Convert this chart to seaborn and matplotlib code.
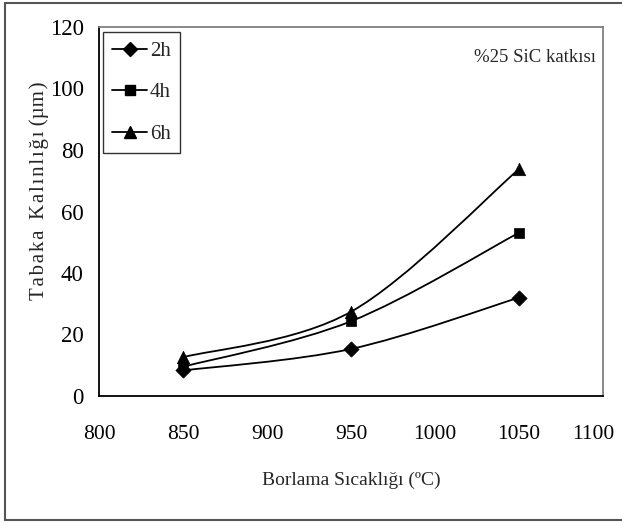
import numpy as np
import pandas as pd
import matplotlib
matplotlib.use("Agg")
import matplotlib.pyplot as plt
import seaborn as sns
from matplotlib.path import Path
from matplotlib.patches import PathPatch
from matplotlib.lines import Line2D
from matplotlib.transforms import ScaledTranslation

# ---- data ----
temperatures = [850, 950, 1050]
series_names = ["2h", "4h", "6h"]
thickness_2h = [8.3, 15.3, 32.0]
thickness_4h = [9.5, 24.3, 53.1]
thickness_6h = [12.6, 27.4, 73.8]
x_ticks = [800, 850, 900, 950, 1000, 1050, 1100]
y_ticks = [0, 20, 40, 60, 80, 100, 120]

series_values = {"2h": thickness_2h, "4h": thickness_4h, "6h": thickness_6h}
markers = {"2h": "D", "4h": "s", "6h": "^"}
msizes = {"2h": 60, "4h": 55, "6h": 80}

rows = []
for name in series_names:
    for t, v in zip(temperatures, series_values[name]):
        rows.append({"T": t, "thk": v, "series": name})
df = pd.DataFrame(rows)

sns.set_theme(style="white")
plt.rcParams["font.family"] = ["Liberation Serif", "DejaVu Serif"]

fig = plt.figure(figsize=(6.22, 5.23), dpi=100)
ax = fig.add_axes([99/622, 1-396/523, (603-99)/622, (396-27)/523])


def excel_smooth_path(xs, ys):
    pts = np.column_stack([xs, ys]).astype(float)
    n = len(pts)
    verts = [pts[0]]
    codes = [Path.MOVETO]
    for i in range(n - 1):
        p_prev = pts[max(i - 1, 0)]
        p0 = pts[i]
        p1 = pts[i + 1]
        p_next = pts[min(i + 2, n - 1)]
        c1 = p0 + (p1 - p_prev) / 6.0
        c2 = p1 - (p_next - p0) / 6.0
        verts += [c1, c2, p1]
        codes += [Path.CURVE4, Path.CURVE4, Path.CURVE4]
    return Path(verts, codes)


for name in series_names:
    sub = df[df["series"] == name]
    path = excel_smooth_path(sub["T"].values, sub["thk"].values)
    ax.add_patch(PathPatch(path, facecolor="none", edgecolor="black", lw=1.3, zorder=2))
    sns.scatterplot(data=sub, x="T", y="thk", marker=markers[name], s=msizes[name],
                    color="black", edgecolor="black", linewidth=0.5, ax=ax, zorder=3,
                    legend=False)

ax.set_xlim(800, 1100)
ax.set_ylim(0, 120)
ax.set_xticks(x_ticks)
ax.set_yticks(y_ticks)
ax.set_xticklabels([str(v) for v in x_ticks])
ax.set_yticklabels([str(v) for v in y_ticks])
ax.tick_params(axis="x", direction="in", length=7, width=1, pad=21, labelsize=15.5, colors="black")
ax.tick_params(axis="y", direction="in", length=5, width=1, pad=11, labelsize=16.5, colors="black")
ax.tick_params(axis="x", which="both", top=False)
ax.tick_params(axis="y", which="both", right=False)

# the last x label sits slightly left of its tick (as in the reference) so it is not cut
last = ax.get_xticklabels()[-1]
last.set_transform(last.get_transform() + ScaledTranslation(-7/72, 0, fig.dpi_scale_trans))

for side in ["left", "bottom"]:
    ax.spines[side].set_color("black")
    ax.spines[side].set_linewidth(1.3)
for side in ["top", "right"]:
    ax.spines[side].set_color("#808080")
    ax.spines[side].set_linewidth(1.3)
    ax.spines[side].set_visible(True)

hs = "\u200a"
ylab = hs.join("Tabaka") + "  " + hs.join("Kalınlığı") + " (µm" + hs + ")"
ax.set_xlabel("Borlama Sıcaklığı (ºC)", fontsize=14)
ax.set_ylabel(ylab, fontsize=15)
ax.xaxis.set_label_coords(0.5, -0.205)
ax.yaxis.set_label_coords(-0.10, 0.555)

ax.text(0.865, 0.916, "%25 SiC katkısı", transform=ax.transAxes, ha="center", va="center",
        fontsize=13.5)

handles = [Line2D([0], [0], color="black", lw=1.3, marker=markers[n],
                  markersize={"2h": 7.5, "4h": 7, "6h": 8.5}[n]) for n in series_names]
leg = ax.legend(handles, series_names, loc="upper left",
                bbox_to_anchor=((103-99)/504, (396-32)/369), borderaxespad=0,
                fontsize=15, frameon=True, fancybox=False, edgecolor="black",
                labelspacing=1.05, handlelength=1.65, handletextpad=0.15,
                borderpad=0.45)
leg.get_frame().set_linewidth(1.0)

# outer border (open on the right, as in the reference)
bcol = "#555555"
fig.add_artist(Line2D([5/622, 5/622], [1-3/523, 1-520/523], transform=fig.transFigure, color=bcol, lw=1.5))
fig.add_artist(Line2D([5/622, 1.0], [1-3/523, 1-3/523], transform=fig.transFigure, color=bcol, lw=1.5))
fig.add_artist(Line2D([5/622, 1.0], [1-520/523, 1-520/523], transform=fig.transFigure, color=bcol, lw=1.5))

fig.savefig("out.png", dpi=100)
